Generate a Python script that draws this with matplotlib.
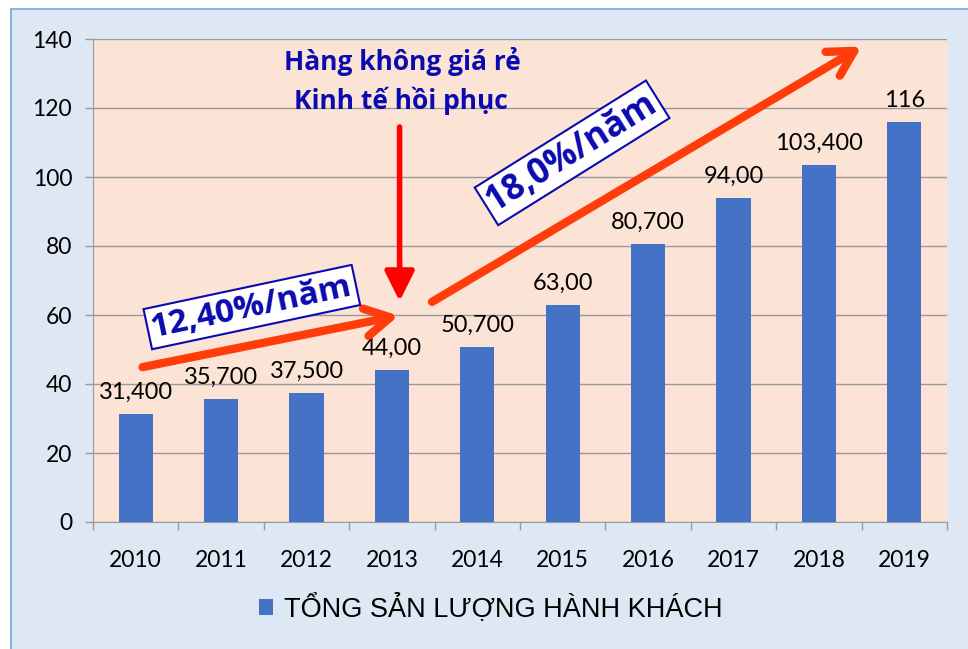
import matplotlib.pyplot as plt
from matplotlib.patches import Rectangle

# data
years = ['2010', '2011', '2012', '2013', '2014', '2015', '2016', '2017', '2018', '2019']
passengers = [31.4, 35.7, 37.5, 44.0, 50.7, 63.0, 80.7, 94.0, 103.4, 116]
bar_labels = ['31,400', '35,700', '37,500', '44,00', '50,700', '63,00', '80,700', '94,00', '103,400', '116']
series_name = 'TỔNG SẢN LƯỢNG HÀNH KHÁCH'
note_lines = ['Hàng không giá rẻ', 'Kinh tế hồi phục']
rate_1 = '12,40%/năm'
rate_2 = '18,0%/năm'

bar_color = '#4472c4'
orange = '#ff3c0a'
navy = '#0a0ab0'
cal = ['Lato', 'Noto Sans', 'DejaVu Sans']
boldfont = ['Open Sans', 'Noto Sans', 'DejaVu Sans']

fig = plt.figure(figsize=(9.68, 6.49), dpi=100)
fig.patch.set_facecolor('white')
bg = Rectangle((11/968, -0.01), 1.0, 1 - 9/649 + 0.01, transform=fig.transFigure,
               facecolor='#dde8f4', edgecolor='#8eb4e3', lw=1.5, zorder=-5)
fig.add_artist(bg)

ax = fig.add_axes([93/968, 127/649, 854/968, 483/649])
ax.set_facecolor('#fbe4d6')

x = list(range(len(years)))
bars = ax.bar(x, passengers, width=0.4, color=bar_color, zorder=3, label=series_name)

for xi, v, lab in zip(x, passengers, bar_labels):
    ax.annotate(lab, (xi, v), xytext=(0, 8), textcoords='offset points',
                ha='center', va='bottom', fontsize=17, family=cal, zorder=5)

ax.set_xlim(-0.5, len(years) - 0.5)
ax.set_ylim(0, 140)
ax.set_yticks(range(0, 141, 20))
ax.yaxis.grid(True, color='#9a9a9a', lw=1)
ax.set_axisbelow(True)
ax.set_xticks(x)
ax.set_xticklabels(years)
ax.set_xticks([i - 0.5 for i in range(len(years) + 1)], minor=True)
ax.tick_params(axis='x', which='major', length=0, pad=20, labelsize=16.5)
ax.tick_params(axis='x', which='minor', length=6, color='#9a9a9a', width=1)
ax.tick_params(axis='y', length=6, color='#9a9a9a', width=1, labelsize=16.5, pad=9)
for t in ax.get_xticklabels() + ax.get_yticklabels():
    t.set_family(cal)
for s in ['top', 'right']:
    ax.spines[s].set_visible(False)
for s in ['left', 'bottom']:
    ax.spines[s].set_color('#9a9a9a')

# annotations
ax.text(3.12, 133.5, note_lines[0], ha='center', va='center', fontsize=19, fontweight='bold',
        color=navy, family=boldfont, zorder=6)
ax.text(3.1, 122, note_lines[1], ha='center', va='center', fontsize=19, fontweight='bold',
        color=navy, family=boldfont, zorder=6)

ax.annotate('', xy=(3.09, 64.0), xytext=(3.09, 114.5),
            arrowprops=dict(arrowstyle='-|>,head_length=0.9,head_width=0.45', color='red',
                            lw=4, mutation_scale=20, shrinkA=0, shrinkB=0), zorder=6)
ax.annotate('', xy=(3.08, 59.8), xytext=(0.08, 44.9),
            arrowprops=dict(arrowstyle='->,head_length=0.9,head_width=0.5', color=orange,
                            lw=6, mutation_scale=20, shrinkA=0, shrinkB=0), zorder=6)
ax.annotate('', xy=(8.5, 137.8), xytext=(3.47, 63.8),
            arrowprops=dict(arrowstyle='->,head_length=0.9,head_width=0.5', color=orange,
                            lw=6, mutation_scale=20, shrinkA=0, shrinkB=0), zorder=6)

box = dict(boxstyle='square,pad=0.12', facecolor='white', edgecolor=navy, lw=1.5)
ax.text(1.36, 62.3, rate_1, ha='center', va='center', rotation=12, rotation_mode='anchor',
        fontsize=24, fontweight='bold', color=navy, family=boldfont, bbox=box, zorder=7)
ax.text(5.11, 107, rate_2, ha='center', va='center', rotation=32, rotation_mode='anchor',
        fontsize=25, fontweight='bold', color=navy, family=boldfont, bbox=box, zorder=7)

fig.legend(handles=[bars], labels=[series_name], loc='center', bbox_to_anchor=(0.507, 0.063),
           frameon=False, handlelength=0.55, handleheight=0.55, handletextpad=0.4,
           prop={'family': ['Liberation Sans', 'DejaVu Sans'], 'size': 19.5})

fig.savefig('out.png', dpi=100)
